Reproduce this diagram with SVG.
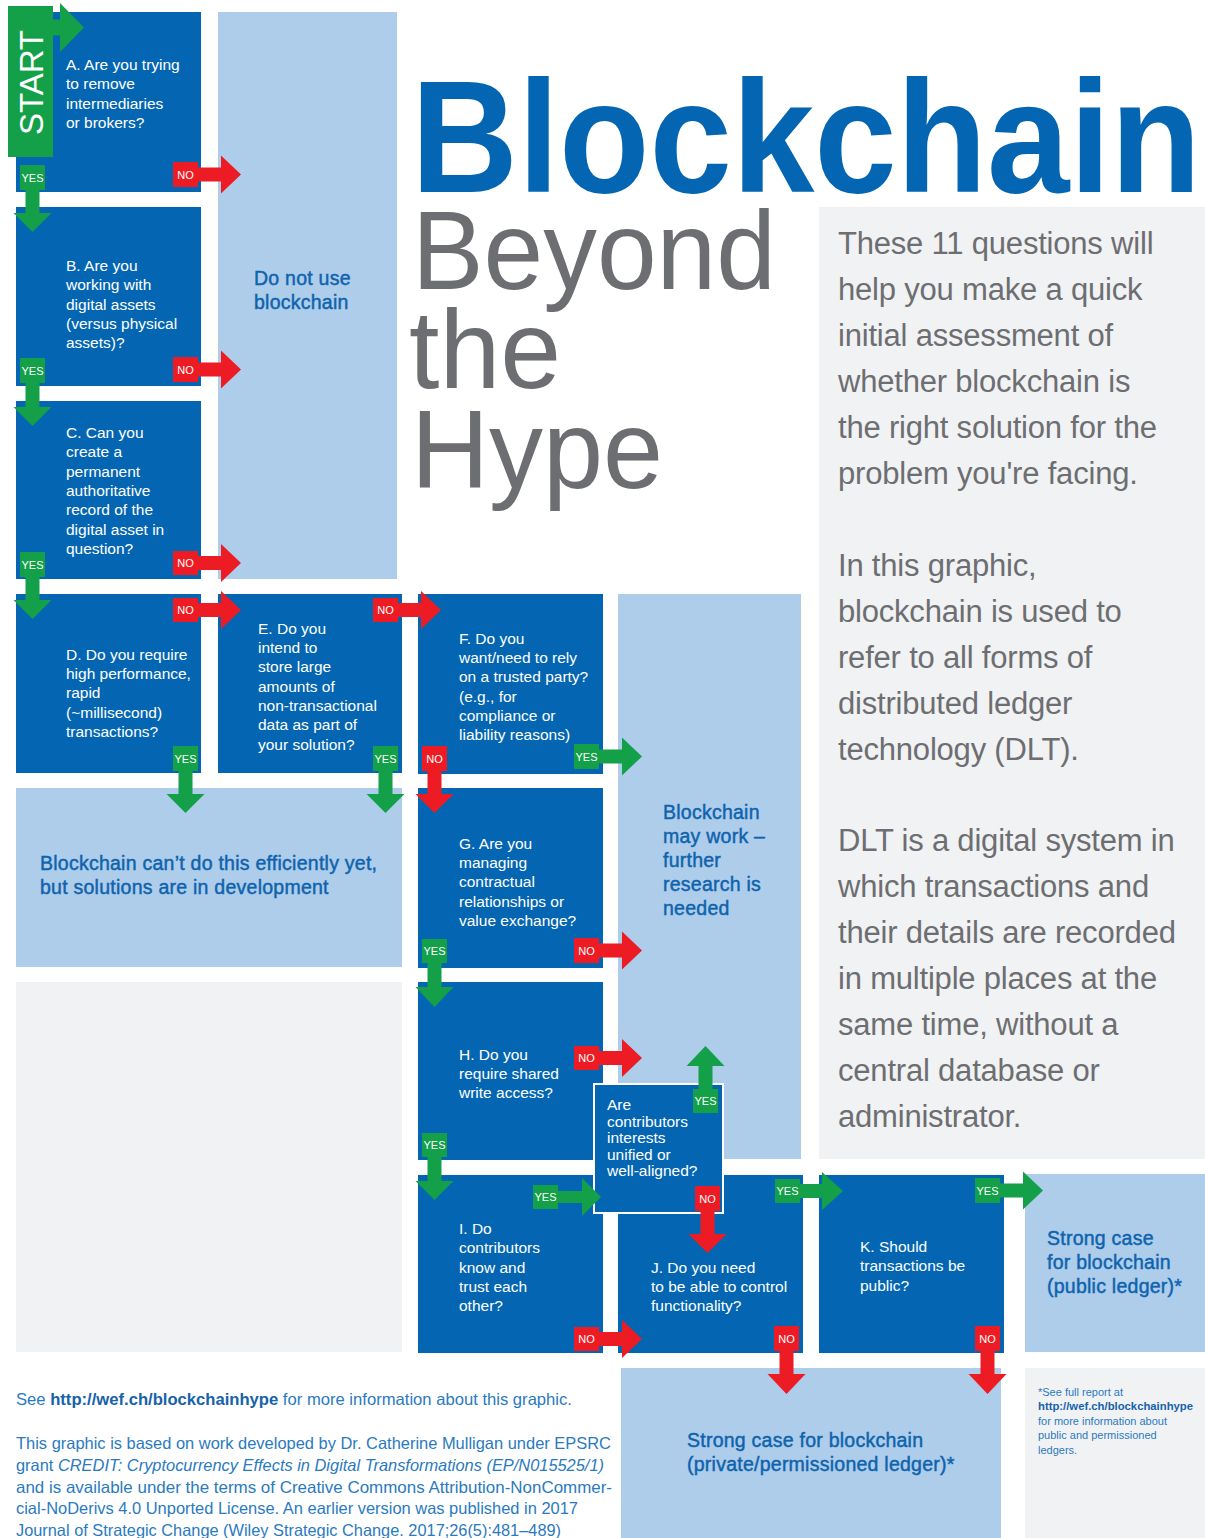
<svg xmlns="http://www.w3.org/2000/svg" width="1205" height="1538" viewBox="0 0 1205 1538">
<style>
.dk{fill:#0466b2}
.lt{fill:#adcdeb}
.gr{fill:#f1f2f4}
.q{font-family:"Liberation Sans",Arial,sans-serif;font-size:15.5px;fill:#ffffff}
.o{font-family:"Liberation Sans",Arial,sans-serif;font-size:19.5px;fill:#0f63ad;stroke:#0f63ad;stroke-width:0.45;letter-spacing:0.25px}
.tag{font-family:"Liberation Sans",Arial,sans-serif;font-size:11px;fill:#ffffff;text-anchor:middle}
.y{fill:#13a049}
.n{fill:#ed1c24}
.p{font-family:"Liberation Sans",Arial,sans-serif;font-size:31px;fill:#6d6e71;letter-spacing:-0.2px}
.f{font-family:"Liberation Sans",Arial,sans-serif;font-size:16.5px;fill:#2a7abf}
.fn{font-family:"Liberation Sans",Arial,sans-serif;font-size:11px;fill:#2a7abf}
.b{font-weight:bold;fill:#1662ab}
.t{font-family:"Liberation Sans",Arial,sans-serif;font-size:112px;fill:#6d6e71}
</style>
<rect width="1205" height="1538" fill="#ffffff"/>

<g id="title">
<text x="411" y="192" font-family="Liberation Sans,Arial,sans-serif" font-weight="bold" font-size="160" fill="#0466b2" textLength="790" lengthAdjust="spacingAndGlyphs">Blockchain</text>
<text class="t" x="412" y="289" textLength="364" lengthAdjust="spacingAndGlyphs">Beyond</text>
<text class="t" x="409" y="388" textLength="152" lengthAdjust="spacingAndGlyphs">the</text>
<text class="t" x="411" y="488" textLength="252" lengthAdjust="spacingAndGlyphs">Hype</text>
</g>

<g id="panel">
<rect class="gr" x="819" y="207" width="386" height="952"/>
<text class="p" x="838" y="254">These 11 questions will</text>
<text class="p" x="838" y="300">help you make a quick</text>
<text class="p" x="838" y="346">initial assessment of</text>
<text class="p" x="838" y="392">whether blockchain is</text>
<text class="p" x="838" y="438">the right solution for the</text>
<text class="p" x="838" y="484">problem you're facing.</text>
<text class="p" x="838" y="576">In this graphic,</text>
<text class="p" x="838" y="622">blockchain is used to</text>
<text class="p" x="838" y="668">refer to all forms of</text>
<text class="p" x="838" y="714">distributed ledger</text>
<text class="p" x="838" y="760">technology (DLT).</text>
<text class="p" x="838" y="851">DLT is a digital system in</text>
<text class="p" x="838" y="897">which transactions and</text>
<text class="p" x="838" y="943">their details are recorded</text>
<text class="p" x="838" y="989">in multiple places at the</text>
<text class="p" x="838" y="1035">same time, without a</text>
<text class="p" x="838" y="1081">central database or</text>
<text class="p" x="838" y="1127">administrator.</text>
</g>

<g id="outNoUse">
<rect class="lt" x="218" y="12" width="179" height="567"/>
<text class="o" x="254" y="285">Do not use</text>
<text class="o" x="254" y="309">blockchain</text>
</g>

<g id="qA">
<rect class="dk" x="16" y="12" width="185" height="180"/>
<text class="q" x="66" y="70">A. Are you trying</text>
<text class="q" x="66" y="89.3">to remove</text>
<text class="q" x="66" y="108.6">intermediaries</text>
<text class="q" x="66" y="128">or brokers?</text>
</g>

<g id="start">
<rect class="y" x="8" y="6" width="45" height="151"/>
<text x="43" y="135" transform="rotate(-90 43 135)" font-family="Liberation Sans,Arial,sans-serif" font-size="34" fill="#ffffff" textLength="105" lengthAdjust="spacingAndGlyphs">START</text>
<path class="y" d="M53,19.5 H60 V3 L84,27.5 L60,52 V35.5 H53 Z"/>
</g>

<g id="qB">
<rect class="dk" x="16" y="207" width="185" height="179"/>
<text class="q" x="66" y="271">B. Are you</text>
<text class="q" x="66" y="290">working with</text>
<text class="q" x="66" y="310">digital assets</text>
<text class="q" x="66" y="329">(versus physical</text>
<text class="q" x="66" y="348">assets)?</text>
</g>

<g id="qC">
<rect class="dk" x="16" y="401" width="185" height="178"/>
<text class="q" x="66" y="438">C. Can you</text>
<text class="q" x="66" y="457">create a</text>
<text class="q" x="66" y="477">permanent</text>
<text class="q" x="66" y="496">authoritative</text>
<text class="q" x="66" y="515">record of the</text>
<text class="q" x="66" y="535">digital asset in</text>
<text class="q" x="66" y="554">question?</text>
</g>

<g id="qD">
<rect class="dk" x="16" y="594" width="185" height="179"/>
<text class="q" x="66" y="660">D. Do you require</text>
<text class="q" x="66" y="679">high performance,</text>
<text class="q" x="66" y="698">rapid</text>
<text class="q" x="66" y="718">(~millisecond)</text>
<text class="q" x="66" y="737">transactions?</text>
</g>

<g id="qE">
<rect class="dk" x="218" y="594" width="184" height="179"/>
<text class="q" x="258" y="634">E. Do you</text>
<text class="q" x="258" y="653">intend to</text>
<text class="q" x="258" y="672">store large</text>
<text class="q" x="258" y="692">amounts of</text>
<text class="q" x="258" y="711">non-transactional</text>
<text class="q" x="258" y="730">data as part of</text>
<text class="q" x="258" y="750">your solution?</text>
</g>

<g id="qF">
<rect class="dk" x="418" y="594" width="185" height="180"/>
<text class="q" x="459" y="644">F. Do you</text>
<text class="q" x="459" y="663">want/need to rely</text>
<text class="q" x="459" y="682">on a trusted party?</text>
<text class="q" x="459" y="702">(e.g., for</text>
<text class="q" x="459" y="721">compliance or</text>
<text class="q" x="459" y="740">liability reasons)</text>
</g>

<g id="outMayWork">
<rect class="lt" x="618" y="594" width="183" height="565"/>
<text class="o" x="663" y="819">Blockchain</text>
<text class="o" x="663" y="843">may work –</text>
<text class="o" x="663" y="867">further</text>
<text class="o" x="663" y="891">research is</text>
<text class="o" x="663" y="915">needed</text>
</g>

<g id="outCantDo">
<rect class="lt" x="16" y="788" width="386" height="179"/>
<text class="o" x="40" y="870">Blockchain can’t do this efficiently yet,</text>
<text class="o" x="40" y="894">but solutions are in development</text>
</g>

<g id="qG">
<rect class="dk" x="418" y="788" width="185" height="180"/>
<text class="q" x="459" y="849">G. Are you</text>
<text class="q" x="459" y="868">managing</text>
<text class="q" x="459" y="887">contractual</text>
<text class="q" x="459" y="907">relationships or</text>
<text class="q" x="459" y="926">value exchange?</text>
</g>

<g id="emptyBox">
<rect class="gr" x="16" y="982" width="386" height="370"/>
</g>

<g id="qH">
<rect class="dk" x="418" y="982" width="185" height="178"/>
<text class="q" x="459" y="1060">H. Do you</text>
<text class="q" x="459" y="1079">require shared</text>
<text class="q" x="459" y="1098">write access?</text>
</g>

<g id="qI">
<rect class="dk" x="418" y="1175" width="185" height="178"/>
<text class="q" x="459" y="1234">I. Do</text>
<text class="q" x="459" y="1253">contributors</text>
<text class="q" x="459" y="1273">know and</text>
<text class="q" x="459" y="1292">trust each</text>
<text class="q" x="459" y="1311">other?</text>
</g>

<g id="qJ">
<rect class="dk" x="618" y="1175" width="185" height="178"/>
<text class="q" x="651" y="1273">J. Do you need</text>
<text class="q" x="651" y="1292">to be able to control</text>
<text class="q" x="651" y="1311">functionality?</text>
</g>

<g id="qK">
<rect class="dk" x="819" y="1175" width="185" height="178"/>
<text class="q" x="860" y="1252">K. Should</text>
<text class="q" x="860" y="1271">transactions be</text>
<text class="q" x="860" y="1291">public?</text>
</g>

<g id="qContrib">
<rect class="dk" x="594" y="1084" width="129" height="129" stroke="#ffffff" stroke-width="2"/>
<text class="q" x="607" y="1110">Are</text>
<text class="q" x="607" y="1127">contributors</text>
<text class="q" x="607" y="1143">interests</text>
<text class="q" x="607" y="1160">unified or</text>
<text class="q" x="607" y="1176">well-aligned?</text>
</g>

<g id="outPublic">
<rect class="lt" x="1025" y="1174" width="180" height="178"/>
<text class="o" x="1047" y="1245">Strong case</text>
<text class="o" x="1047" y="1269">for blockchain</text>
<text class="o" x="1047" y="1293">(public ledger)*</text>
</g>

<g id="outPrivate">
<rect class="lt" x="621" y="1368" width="380" height="170"/>
<text class="o" x="687" y="1447">Strong case for blockchain</text>
<text class="o" x="687" y="1471">(private/permissioned ledger)*</text>
</g>

<g id="footnote">
<rect class="gr" x="1025" y="1368" width="180" height="170"/>
<text class="fn" x="1038" y="1396">*See full report at</text>
<text class="fn b" x="1038" y="1410" textLength="155" lengthAdjust="spacingAndGlyphs">http://wef.ch/blockchainhype</text>
<text class="fn" x="1038" y="1425">for more information about</text>
<text class="fn" x="1038" y="1439">public and permissioned</text>
<text class="fn" x="1038" y="1454">ledgers.</text>
</g>

<g id="footer">
<text class="f" x="16" y="1405" textLength="556" lengthAdjust="spacingAndGlyphs">See <tspan class="b">http://wef.ch/blockchainhype</tspan> for more information about this graphic.</text>
<text class="f" x="16" y="1449" textLength="595" lengthAdjust="spacingAndGlyphs">This graphic is based on work developed by Dr. Catherine Mulligan under EPSRC</text>
<text class="f" x="16" y="1471" textLength="588" lengthAdjust="spacingAndGlyphs">grant <tspan font-style="italic">CREDIT: Cryptocurrency Effects in Digital Transformations (EP/N015525/1)</tspan></text>
<text class="f" x="16" y="1493" textLength="596" lengthAdjust="spacingAndGlyphs">and is available under the terms of Creative Commons Attribution-NonCommer-</text>
<text class="f" x="16" y="1514" textLength="562" lengthAdjust="spacingAndGlyphs">cial-NoDerivs 4.0 Unported License. An earlier version was published in 2017</text>
<text class="f" x="16" y="1536" textLength="545" lengthAdjust="spacingAndGlyphs">Journal of Strategic Change (Wiley Strategic Change. 2017;26(5):481–489)</text>
</g>

<g id="connectors">
<!-- A -->
<path class="y" d="M25.5,190 V213 H13.5 L32.5,232 L51.5,213 H39.5 V190 Z"/>
<rect class="y" x="20" y="165" width="25" height="25"/><text class="tag" x="32.5" y="181.5">YES</text>
<path class="n" d="M198,167.5 H221 V155.5 L241,174.5 L221,193.5 V181.5 H198 Z"/>
<rect class="n" x="173" y="162" width="25" height="25"/><text class="tag" x="185.5" y="178.5">NO</text>
<!-- B -->
<path class="y" d="M25.5,383 V407 H13.5 L32.5,426 L51.5,407 H39.5 V383 Z"/>
<rect class="y" x="20" y="358" width="25" height="25"/><text class="tag" x="32.5" y="374.5">YES</text>
<path class="n" d="M198,362.5 H221 V350.5 L241,369.5 L221,388.5 V376.5 H198 Z"/>
<rect class="n" x="173" y="357" width="25" height="25"/><text class="tag" x="185.5" y="373.5">NO</text>
<!-- C -->
<path class="y" d="M25.5,577 V600 H13.5 L32.5,619 L51.5,600 H39.5 V577 Z"/>
<rect class="y" x="20" y="552" width="25" height="25"/><text class="tag" x="32.5" y="568.5">YES</text>
<path class="n" d="M198,556 H221 V544 L241,563 L221,582 V570 H198 Z"/>
<rect class="n" x="173" y="551" width="25" height="24"/><text class="tag" x="185.5" y="567">NO</text>
<!-- D -->
<path class="n" d="M198,603 H221 V591 L241,610 L221,629 V617 H198 Z"/>
<rect class="n" x="173" y="598" width="25" height="24"/><text class="tag" x="185.5" y="614">NO</text>
<path class="y" d="M178.5,771 V794 H166.5 L185.5,813 L204.5,794 H192.5 V771 Z"/>
<rect class="y" x="173" y="746" width="25" height="25"/><text class="tag" x="185.5" y="762.5">YES</text>
<!-- E -->
<path class="n" d="M398,603 H421 V591 L441,610 L421,629 V617 H398 Z"/>
<rect class="n" x="373" y="598" width="25" height="24"/><text class="tag" x="385.5" y="614">NO</text>
<path class="y" d="M378.5,771 V794 H366.5 L385.5,813 L404.5,794 H392.5 V771 Z"/>
<rect class="y" x="373" y="746" width="25" height="25"/><text class="tag" x="385.5" y="762.5">YES</text>
<!-- F -->
<path class="n" d="M427.5,771 V794 H415.5 L434.5,813 L453.5,794 H441.5 V771 Z"/>
<rect class="n" x="422" y="746" width="25" height="25"/><text class="tag" x="434.5" y="762.5">NO</text>
<path class="y" d="M599,749.5 H622 V737.5 L642,756.5 L622,775.5 V763.5 H599 Z"/>
<rect class="y" x="574" y="744" width="25" height="25"/><text class="tag" x="586.5" y="760.5">YES</text>
<!-- G -->
<path class="y" d="M427.5,963 V987 H415.5 L434.5,1007 L453.5,987 H441.5 V963 Z"/>
<rect class="y" x="422" y="939" width="25" height="24"/><text class="tag" x="434.5" y="955">YES</text>
<path class="n" d="M599,943.5 H622 V931.5 L642,950.5 L622,969.5 V957.5 H599 Z"/>
<rect class="n" x="574" y="938" width="25" height="25"/><text class="tag" x="586.5" y="954.5">NO</text>
<!-- H -->
<path class="n" d="M599,1051 H622 V1039 L642,1058 L622,1077 V1065 H599 Z"/>
<rect class="n" x="574" y="1046" width="25" height="24"/><text class="tag" x="586.5" y="1062">NO</text>
<path class="y" d="M427.5,1157 V1181 H415.5 L434.5,1200 L453.5,1181 H441.5 V1157 Z"/>
<rect class="y" x="422" y="1133" width="25" height="24"/><text class="tag" x="434.5" y="1149">YES</text>
<!-- Contributors -->
<path class="y" d="M698.5,1089 V1066 H686.5 L705.5,1046 L724.5,1066 H712.5 V1089 Z"/>
<rect class="y" x="693" y="1089" width="25" height="24"/><text class="tag" x="705.5" y="1105">YES</text>
<path class="n" d="M700.5,1211 V1234 H688.5 L707.5,1253 L726.5,1234 H714.5 V1211 Z"/>
<rect class="n" x="695" y="1186" width="25" height="25"/><text class="tag" x="707.5" y="1202.5">NO</text>
<!-- I -->
<path class="y" d="M558,1191 H582 V1178 L601,1197 L582,1216 V1203 H558 Z"/>
<rect class="y" x="533" y="1185" width="25" height="24"/><text class="tag" x="545.5" y="1201">YES</text>
<path class="n" d="M599,1332 H622 V1320 L642,1339 L622,1358 V1346 H599 Z"/>
<rect class="n" x="574" y="1327" width="25" height="24"/><text class="tag" x="586.5" y="1343">NO</text>
<!-- J -->
<path class="y" d="M800,1184 H822 V1172 L843,1191 L822,1210 V1198 H800 Z"/>
<rect class="y" x="775" y="1179" width="25" height="24"/><text class="tag" x="787.5" y="1195">YES</text>
<path class="n" d="M779.5,1351 V1374 H767.5 L786.5,1394 L805.5,1374 H793.5 V1351 Z"/>
<rect class="n" x="774" y="1326" width="25" height="25"/><text class="tag" x="786.5" y="1342.5">NO</text>
<!-- K -->
<path class="y" d="M1000,1183.5 H1023 V1171.5 L1043,1190.5 L1023,1209.5 V1197.5 H1000 Z"/>
<rect class="y" x="975" y="1178" width="25" height="25"/><text class="tag" x="987.5" y="1194.5">YES</text>
<path class="n" d="M980.5,1351 V1374 H968.5 L987.5,1394 L1006.5,1374 H994.5 V1351 Z"/>
<rect class="n" x="975" y="1326" width="25" height="25"/><text class="tag" x="987.5" y="1342.5">NO</text>
</g>
</svg>
